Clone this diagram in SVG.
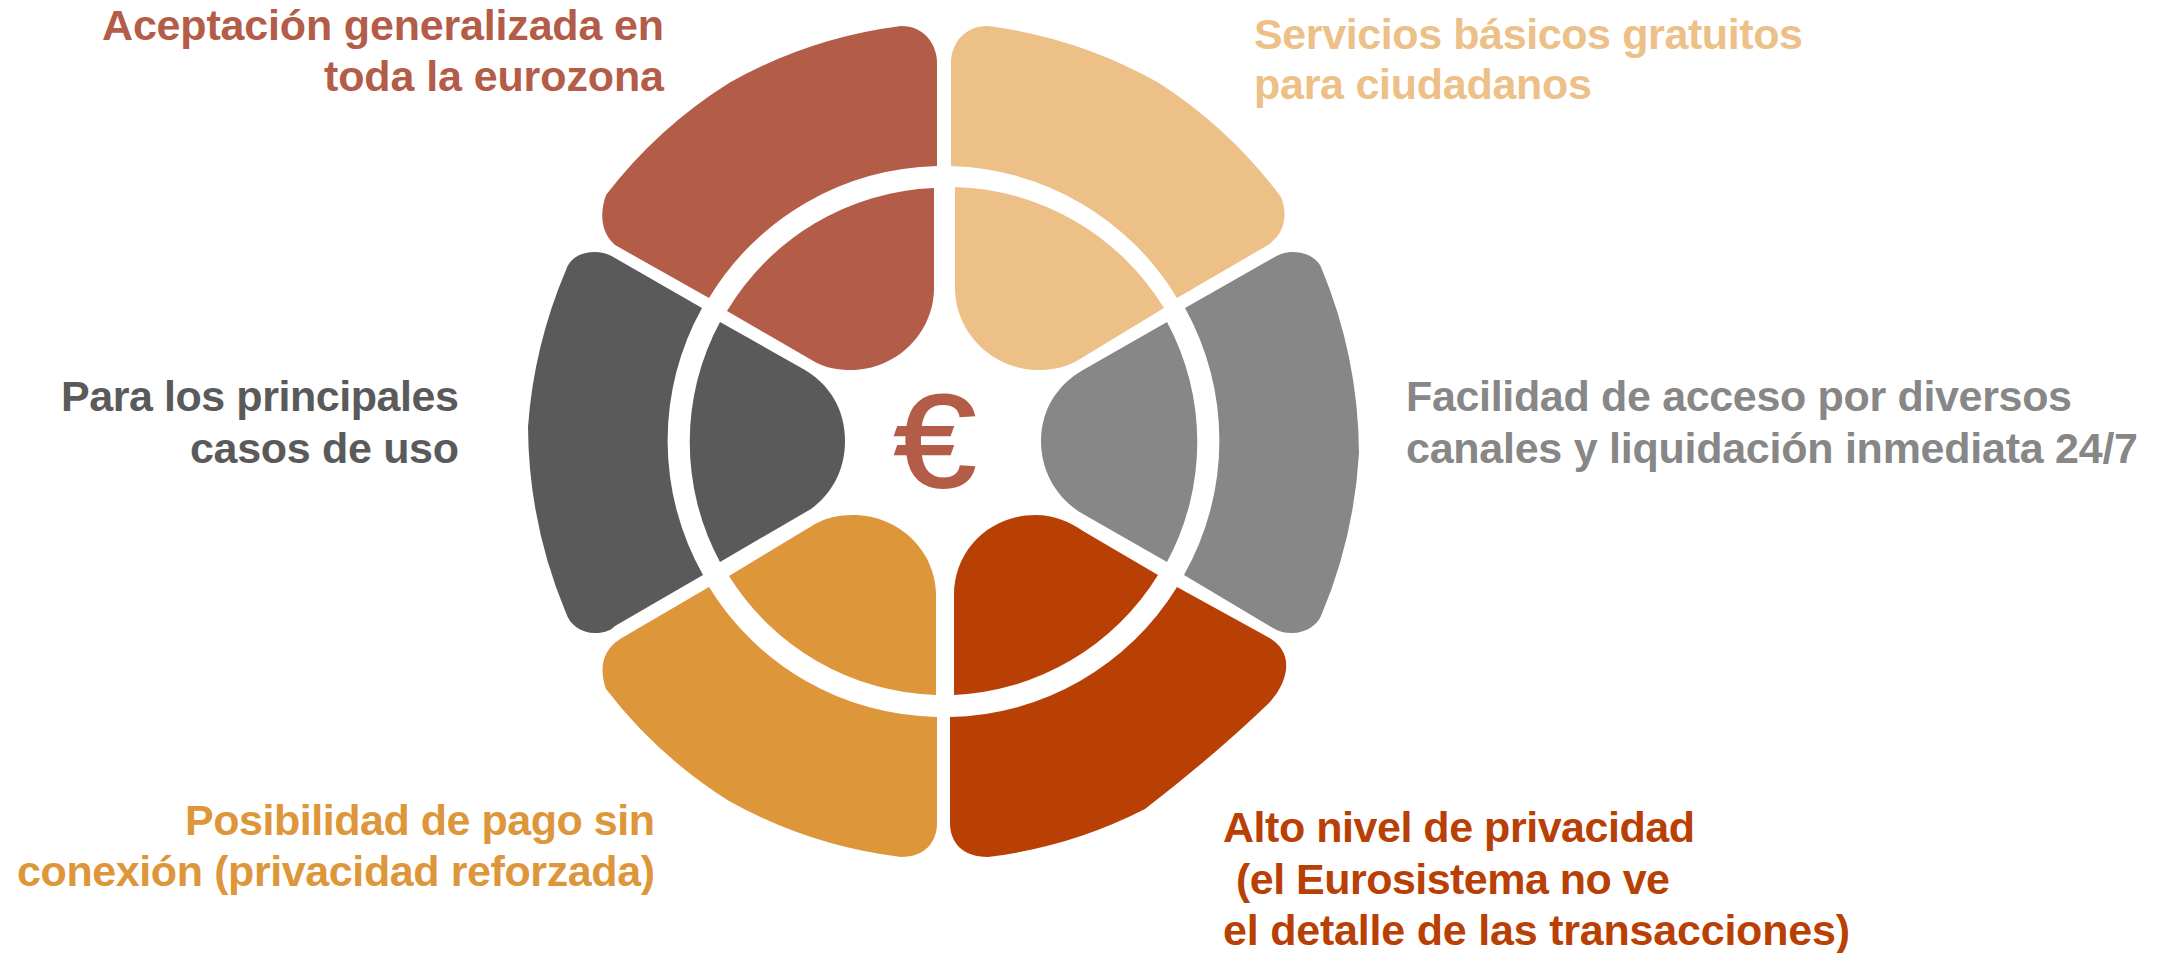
<svg xmlns="http://www.w3.org/2000/svg" width="2166" height="953" viewBox="0 0 2166 953">
<style>
text{font-family:"Liberation Sans",Arial,sans-serif;font-weight:700;font-size:43px}
.e{text-anchor:end}
.red{fill:#b35c48}.tan{fill:#ecc087}.gray{fill:#878787}.rust{fill:#b94005}.orange{fill:#dd963a}.dark{fill:#5a5a5a}
</style>
<rect width="2166" height="953" fill="#fff"/>
<g id="node-aceptacion">
<path class="red" d="M937,166 L937,63 C937,45 925,26 901,26 A470,470 0 0 0 729,83 A470,470 0 0 0 606,195 C600,212 600,232 615,245 L709,298 A273,273 0 0 1 937,166 Z"/>
<path class="red" d="M934,188 L934,288 C934,333 896,370 851,370 C838,370 826,368 815,362 L727,311 A253,253 0 0 1 934,188 Z"/>
<text class="red e" x="664" y="40" textLength="562">Aceptación generalizada en</text>
<text class="red e" x="664" y="91" textLength="340">toda la eurozona</text>
</g>
<g id="node-servicios">
<path class="tan" d="M951,166 L951,63 C951,45 963,26 988,26 A470,470 0 0 1 1159,83 A470,470 0 0 1 1281,197 C1287,212 1287,232 1268,245 L1177,298 A273,273 0 0 0 951,166 Z"/>
<path class="tan" d="M955,187 L955,288 C955,333 993,370 1038,370 C1051,370 1063,368 1075,362 L1164,308 A253,253 0 0 0 955,187 Z"/>
<text class="tan" x="1254" y="49" textLength="549">Servicios básicos gratuitos</text>
<text class="tan" x="1254" y="99" textLength="338">para ciudadanos</text>
</g>
<g id="node-facilidad">
<path class="gray" d="M1185,308 L1273,258 C1279,254 1286,252 1292,252 C1306,252 1317,258 1321,267 A490,490 0 0 1 1359,453 A490,490 0 0 1 1321,616 C1317,625 1306,633 1292,633 C1286,633 1279,632 1273,628 L1184,575 A273,273 0 0 0 1185,308 Z"/>
<path class="gray" d="M1167,322 L1083,370 C1057,385 1041,410 1041,441 C1041,472 1057,499 1083,514 L1167,562 A253,253 0 0 0 1167,322 Z"/>
<text class="gray" x="1406" y="411" textLength="666">Facilidad de acceso por diversos</text>
<text class="gray" x="1406" y="463" textLength="732">canales y liquidación inmediata 24/7</text>
</g>
<g id="node-privacidad">
<path class="rust" d="M950,717 L950,823 C950,842 962,857 988,857 A470,470 0 0 0 1145,809 Q1215,755 1269,703 C1290,680 1295,650 1266,636 L1177,587 A273,273 0 0 1 950,717 Z"/>
<path class="rust" d="M954,695 L954,595 C954,550 990,515 1035,515 C1055,515 1070,522 1083,531 L1158,575 A253,253 0 0 1 954,695 Z"/>
<text class="rust" x="1223" y="842" textLength="472">Alto nivel de privacidad</text>
<text class="rust" x="1236" y="894" textLength="434">(el Eurosistema no ve</text>
<text class="rust" x="1223" y="945" textLength="627">el detalle de las transacciones)</text>
</g>
<g id="node-posibilidad">
<path class="orange" d="M937,717 L937,823 C937,842 925,857 901,857 A470,470 0 0 1 729,801 A470,470 0 0 1 606,689 C600,672 600,652 620,639 L709,587 A273,273 0 0 0 937,717 Z"/>
<path class="orange" d="M936,695 L936,596 C936,550 898,515 853,515 C838,515 826,518 815,524 L729,576 A253,253 0 0 0 936,695 Z"/>
<text class="orange e" x="655" y="835" textLength="470">Posibilidad de pago sin</text>
<text class="orange e" x="655" y="886" textLength="638">conexión (privacidad reforzada)</text>
</g>
<g id="node-casos">
<path class="dark" d="M702,308 L615,258 C609,254 602,252 595,252 C581,252 570,258 566,270 A490,490 0 0 0 528,427 A490,490 0 0 0 566,613 C570,625 581,633 595,633 C602,633 609,632 615,626 L703,575 A273,273 0 0 1 702,308 Z"/>
<path class="dark" d="M720,322 L805,370 C830,385 845,410 845,441 C845,472 830,495 811,509 L720,562 A253,253 0 0 1 720,322 Z"/>
<text class="dark e" x="459" y="411" textLength="398">Para los principales</text>
<text class="dark e" x="459" y="463" textLength="269">casos de uso</text>
</g>
<g id="node-euro">
<text transform="translate(935 487) scale(1.12 1)" class="red" text-anchor="middle" style="font-weight:400;font-size:132px;stroke:#b35c48;stroke-width:2">€</text>
</g>
</svg>
